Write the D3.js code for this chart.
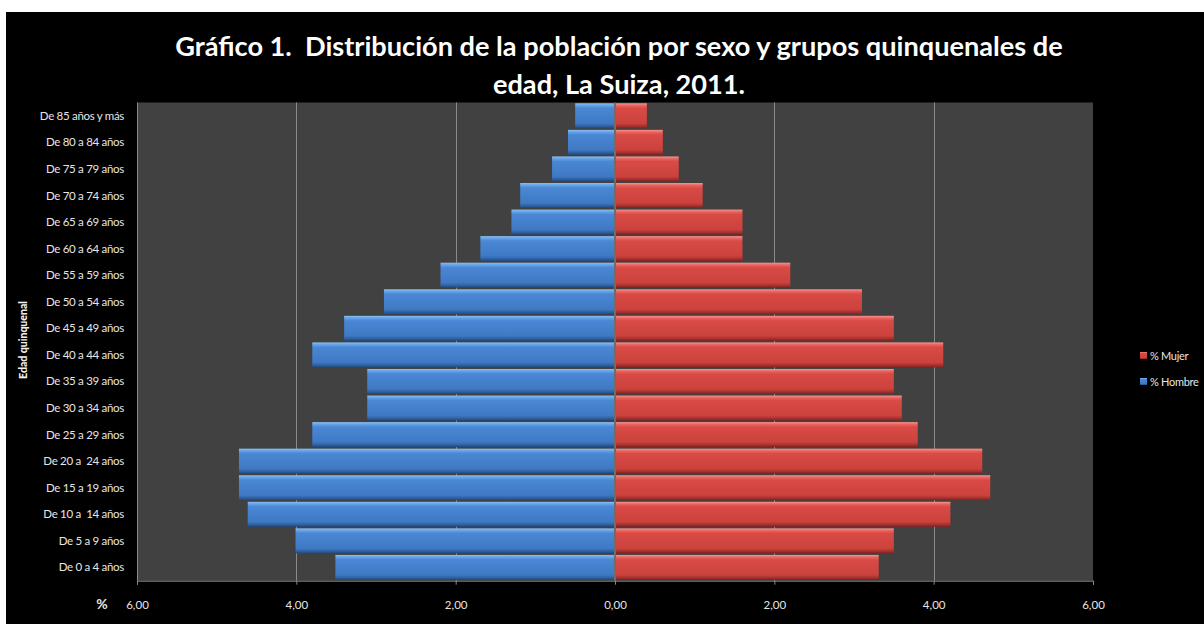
<!DOCTYPE html>
<html>
<head>
<meta charset="utf-8">
<script src="https://cdn.jsdelivr.net/npm/d3@7"></script>
<style>
  html, body { margin: 0; padding: 0; background: #fff; }
  svg { display: block; }
  text { font-family: Lato, "Open Sans", sans-serif; white-space: pre; }
</style>
</head>
<body>
<div id="chart"></div>
<script>
// Age groups, bottom to top as in the picture
const categories = [
  'De 0 a 4 años', 'De 5 a 9 años', 'De 10 a  14 años', 'De 15 a 19 años',
  'De 20 a  24 años', 'De 25 a 29 años', 'De 30 a 34 años', 'De 35 a 39 años',
  'De 40 a 44 años', 'De 45 a 49 años', 'De 50 a 54 años', 'De 55 a 59 años',
  'De 60 a 64 años', 'De 65 a 69 años', 'De 70 a 74 años', 'De 75 a 79 años',
  'De 80 a 84 años', 'De 85 años y más'
];
const hombre = [3.51, 4.01, 4.61, 4.72, 4.72, 3.80, 3.11, 3.11, 3.80, 3.40,
                2.90, 2.19, 1.69, 1.30, 1.19, 0.79, 0.59, 0.50];
const mujer  = [3.31, 3.50, 4.21, 4.71, 4.61, 3.80, 3.60, 3.50, 4.12, 3.50,
                3.10, 2.20, 1.60, 1.60, 1.10, 0.80, 0.60, 0.40];
const xTicks = [-6, -4, -2, 0, 2, 4, 6];
const seriesNames = ['% Mujer', '% Hombre'];
const titleLines = [
  'Gráfico 1.  Distribución de la población por sexo y grupos quinquenales de',
  'edad, La Suiza, 2011.'
];
const yTitle = 'Edad quinquenal';

const W = 1204, H = 624;
const PLOT = { left: 137, right: 1093, top: 102.5, bottom: 580.7 };

const svg = d3.select('#chart').append('svg')
  .attr('width', W).attr('height', H);

// background
svg.append('rect').attr('x', 6).attr('y', 12).attr('width', W - 6).attr('height', H - 12)
  .attr('fill', '#000');

// gradients for bevelled bars
const defs = svg.append('defs');
function bevel(id, stops) {
  const g = defs.append('linearGradient').attr('id', id)
    .attr('x1', 0).attr('y1', 0).attr('x2', 0).attr('y2', 1);
  stops.forEach(s => g.append('stop').attr('offset', s[0]).attr('stop-color', s[1]));
}
bevel('gBlue', [[0, '#8cbdf2'], [0.1, '#62a0e6'], [0.2, '#4a87d4'], [0.8, '#3f79c4'], [0.92, '#2e5f9e'], [1, '#22477a']]);
bevel('gRed',  [[0, '#f79390'], [0.1, '#e8625c'], [0.2, '#d94a45'], [0.8, '#cb423d'], [0.92, '#a5302c'], [1, '#7c2220']]);

const x = d3.scaleLinear().domain([-6, 6]).range([PLOT.left, PLOT.right]);
const y = d3.scaleBand().domain(categories.slice().reverse())
  .range([PLOT.top, PLOT.bottom]).paddingInner(0.06).paddingOuter(0.03);

// plot area
svg.append('rect')
  .attr('x', PLOT.left).attr('y', PLOT.top)
  .attr('width', PLOT.right - PLOT.left).attr('height', PLOT.bottom - PLOT.top)
  .attr('fill', '#414141');

// gridlines
svg.append('g').selectAll('line')
  .data(xTicks.filter(t => Math.abs(t) !== 6 && t !== 0))
  .enter().append('line')
  .attr('x1', d => Math.round(x(d)) + 0.5).attr('x2', d => Math.round(x(d)) + 0.5)
  .attr('y1', PLOT.top).attr('y2', PLOT.bottom)
  .attr('stroke', '#8a8a8a').attr('stroke-width', 1);

// bars
const rows = categories.map((c, i) => ({ cat: c, h: hombre[i], m: mujer[i] }));
const bars = svg.append('g');
bars.selectAll('.bh').data(rows).enter().append('rect')
  .attr('class', 'bh')
  .attr('x', d => x(-d.h)).attr('y', d => y(d.cat))
  .attr('width', d => x(0) - 1 - x(-d.h)).attr('height', y.bandwidth())
  .attr('fill', 'url(#gBlue)');
bars.selectAll('.bm').data(rows).enter().append('rect')
  .attr('class', 'bm')
  .attr('x', x(0) + 1).attr('y', d => y(d.cat))
  .attr('width', d => x(d.m) - x(0) - 1).attr('height', y.bandwidth())
  .attr('fill', 'url(#gRed)');

// zero line
svg.append('line')
  .attr('x1', x(0)).attr('x2', x(0)).attr('y1', PLOT.top).attr('y2', PLOT.bottom)
  .attr('stroke', '#9a9a9a').attr('stroke-width', 1);

// left axis line
svg.append('line')
  .attr('x1', PLOT.left + 0.5).attr('x2', PLOT.left + 0.5)
  .attr('y1', PLOT.top).attr('y2', PLOT.bottom)
  .attr('stroke', '#8a8a8a');

// x axis
const fmt = v => Math.abs(v).toFixed(2).replace('.', ',');
const xAxis = svg.append('g')
  .attr('transform', `translate(0,${PLOT.bottom})`)
  .call(d3.axisBottom(x).tickValues(xTicks).tickFormat(fmt).tickSize(4).tickPadding(16));
xAxis.select('.domain').attr('stroke', '#8a8a8a');
xAxis.selectAll('.tick line').attr('stroke', '#8a8a8a');
xAxis.selectAll('.tick text')
  .attr('fill', '#e6e6e6').attr('font-size', 11.5).attr('font-family', 'Lato, sans-serif');

svg.append('text')
  .attr('x', 102).attr('y', 609)
  .attr('text-anchor', 'middle')
  .attr('fill', '#e6e6e6').attr('font-size', 14).attr('font-weight', 'bold')
  .text('%');

// y labels
const yLab = svg.append('g');
yLab.selectAll('text').data(categories).enter().append('text')
  .attr('x', 124)
  .attr('y', d => y(d) + y.bandwidth() / 2)
  .attr('dy', '0.35em')
  .attr('text-anchor', 'end')
  .attr('fill', '#e6e6e6').attr('font-size', 11.5)
  .attr('letter-spacing', '-0.3')
  .text(d => d);

// y title
svg.append('text')
  .attr('transform', `translate(23,340) rotate(-90)`)
  .attr('text-anchor', 'middle')
  .attr('dy', '0.35em')
  .attr('fill', '#f0f0f0').attr('font-size', 10.5).attr('font-weight', 900)
  .text(yTitle);

// title
const title = svg.append('g');
const t1 = title.append('text')
  .attr('x', 619).attr('y', 56)
  .attr('text-anchor', 'middle')
  .attr('fill', '#fff').attr('font-weight', 'bold').attr('font-size', 28)
  .text(titleLines[0]);
// fit first line to the reference width
const w1 = t1.node().getComputedTextLength();
const fs = 28 * 888 / w1;
t1.attr('font-size', fs);
title.append('text')
  .attr('x', 619).attr('y', 94)
  .attr('text-anchor', 'middle')
  .attr('fill', '#fff').attr('font-weight', 'bold').attr('font-size', fs)
  .text(titleLines[1]);

// legend
const legend = svg.append('g').attr('transform', 'translate(1140,352)');
seriesNames.forEach((name, i) => {
  const g = legend.append('g').attr('transform', `translate(0,${i * 26})`);
  g.append('rect').attr('width', 7).attr('height', 7)
    .attr('fill', i === 0 ? 'url(#gRed)' : 'url(#gBlue)');
  g.append('text').attr('x', 10).attr('y', 4).attr('dy', '0.35em')
    .attr('fill', '#e6e6e6').attr('font-size', 11)
    .attr('letter-spacing', '-0.3')
    .text(name);
});
</script>
</body>
</html>
